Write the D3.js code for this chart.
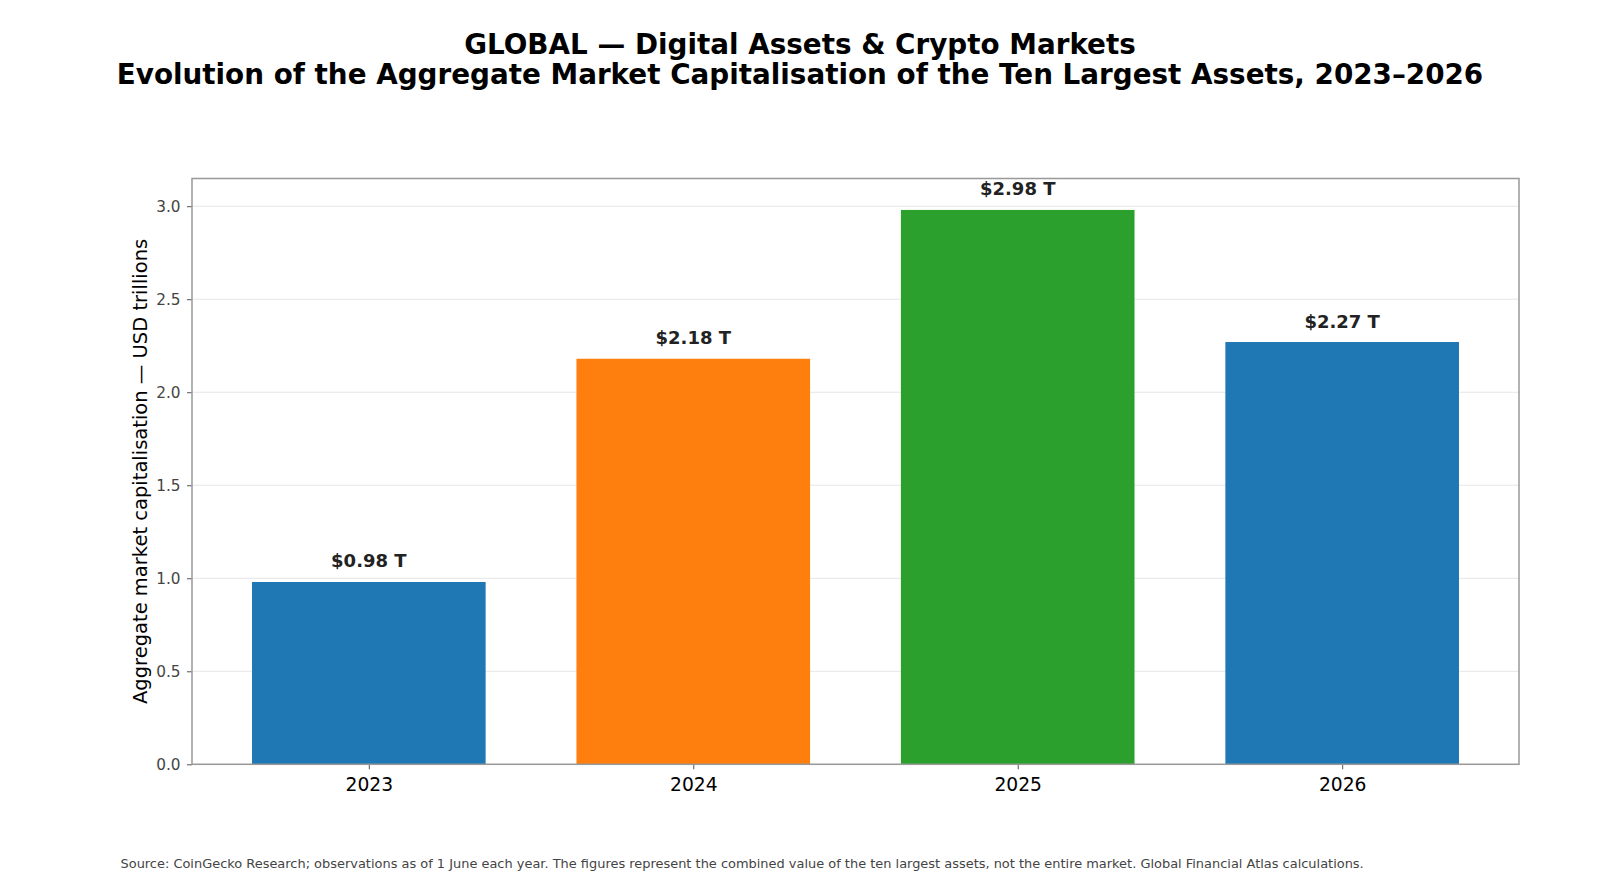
<!DOCTYPE html>
<html>
<head>
<meta charset="utf-8">
<script src="https://cdn.jsdelivr.net/npm/d3@7"></script>
<style>
  body { margin: 0; background: #fff; }
  svg { font-family: "DejaVu Sans", sans-serif; }
</style>
</head>
<body>
<div id="chart"></div>
<script>
const years = ["2023", "2024", "2025", "2026"];
const marketCap = [0.98, 2.18, 2.98, 2.27];
const barColors = ["#1f77b4", "#ff7f0e", "#2ca02c", "#1f77b4"];
const yTicks = [0.0, 0.5, 1.0, 1.5, 2.0, 2.5, 3.0];

const width = 1600, height = 890;
const margin = {top: 178.5, right: 81, bottom: 125.7, left: 192};
const plotW = width - margin.left - margin.right;
const plotH = height - margin.top - margin.bottom;

const svg = d3.select("#chart")
  .append("svg")
  .attr("width", width)
  .attr("height", height);

// titles
svg.append("text")
  .attr("x", 800).attr("y", 53.5)
  .attr("text-anchor", "middle")
  .attr("font-size", 27.8).attr("font-weight", "bold")
  .text("GLOBAL \u2014 Digital Assets & Crypto Markets");
svg.append("text")
  .attr("x", 800).attr("y", 84)
  .attr("text-anchor", "middle")
  .attr("font-size", 27.8).attr("font-weight", "bold")
  .text("Evolution of the Aggregate Market Capitalisation of the Ten Largest Assets, 2023\u20132026");

const x = d3.scaleLinear()
  .domain([-0.545, years.length - 1 + 0.545])
  .range([0, plotW]);
const step = x(1) - x(0);
const barW = step * 0.72;

const y = d3.scaleLinear()
  .domain([0, 3.149])
  .range([plotH, 0]);

const g = svg.append("g")
  .attr("transform", "translate(" + [margin.left, margin.top] + ")");

// grid
g.selectAll("line.grid")
  .data(yTicks)
  .enter()
  .append("line")
  .attr("class", "grid")
  .attr("x1", 0).attr("x2", plotW)
  .attr("y1", d => y(d)).attr("y2", d => y(d))
  .attr("stroke", "#e6e6e6")
  .attr("stroke-width", 1);

// bars
g.selectAll("rect.bar")
  .data(marketCap)
  .enter()
  .append("rect")
  .attr("class", "bar")
  .attr("x", (d, i) => x(i) - barW / 2)
  .attr("width", barW)
  .attr("y", d => y(d))
  .attr("height", d => plotH - y(d))
  .attr("fill", (d, i) => barColors[i]);

// value labels
g.selectAll("text.value")
  .data(marketCap)
  .enter()
  .append("text")
  .attr("class", "value")
  .attr("x", (d, i) => x(i))
  .attr("y", d => y(d) - 14.5)
  .attr("text-anchor", "middle")
  .attr("font-size", 18).attr("font-weight", "bold")
  .attr("fill", "#222")
  .text(d => "$" + d.toFixed(2) + " T");

// axes
const yAxis = g.append("g")
  .call(d3.axisLeft(y).tickValues(yTicks).tickFormat(d3.format(".1f")).tickSize(5).tickPadding(6.5));
yAxis.select(".domain").remove();
yAxis.selectAll(".tick line").attr("stroke", "#555");
yAxis.selectAll(".tick text").attr("font-size", 15.3).attr("fill", "#444")
  .attr("font-family", "DejaVu Sans, sans-serif");

const xAxis = g.append("g")
  .attr("transform", "translate(0," + plotH + ")")
  .call(d3.axisBottom(x).tickValues(d3.range(years.length)).tickFormat(i => years[i]).tickSize(5).tickPadding(8));
xAxis.select(".domain").remove();
xAxis.selectAll(".tick line").attr("stroke", "#555");
xAxis.selectAll(".tick text").attr("font-size", 18.7).attr("fill", "#000")
  .attr("font-family", "DejaVu Sans, sans-serif");

// frame
g.append("rect")
  .attr("x", 0).attr("y", 0)
  .attr("width", plotW).attr("height", plotH)
  .attr("fill", "none")
  .attr("stroke", "#999")
  .attr("stroke-width", 1.5);

// y label
svg.append("text")
  .attr("transform", "translate(146.5," + (margin.top + plotH / 2) + ") rotate(-90)")
  .attr("text-anchor", "middle")
  .attr("font-size", 19.5)
  .attr("fill", "#000")
  .text("Aggregate market capitalisation \u2014 USD trillions");

// source
svg.append("text")
  .attr("x", 120.5).attr("y", 868)
  .attr("font-size", 12.95)
  .attr("fill", "#444")
  .text("Source: CoinGecko Research; observations as of 1 June each year. The figures represent the combined value of the ten largest assets, not the entire market. Global Financial Atlas calculations.");
</script>
</body>
</html>
